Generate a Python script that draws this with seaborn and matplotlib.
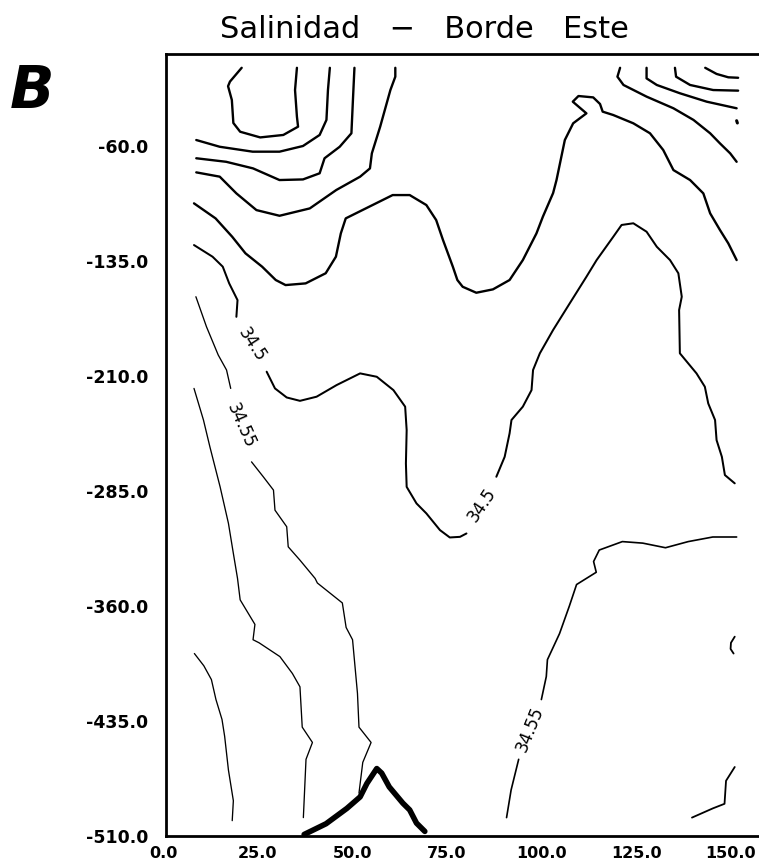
import matplotlib
matplotlib.use("Agg")
import matplotlib.pyplot as plt
import matplotlib.transforms as mtransforms
import seaborn as sns

# ---------------- data (x: distance, depth: m) ----------------
title_text = "Salinidad   \u2212   Borde   Este"
panel_letter = "B"

x_ticks = [0, 25, 50, 75, 100, 125, 150]
x_tick_labels = ["0.0", "25.0", "50.0", "75.0", "100.0", "125.0", "150.0"]
y_ticks = list(range(-510, 0, 25))
y_labelled = [-510, -435, -360, -285, -210, -135, -60]

# isolines, each as x / depth arrays
seg_a_x = [20.0, 16.9, 16.4, 17.4, 17.8, 19.6, 24.9, 31.0, 34.9, 34.6, 34.1, 34.6]
seg_a_depth = [-9, -18, -21, -30, -45, -50.7, -54.4, -52.8, -47.4, -40.9, -23.5, -9]

seg_b_x = [8.0, 14.2, 22.9, 30.0, 36.2, 40.6, 42.4, 42.8, 43.3]
seg_b_depth = [-56.1, -60.5, -63.7, -63.7, -60.0, -52.8, -43.0, -23.5, -9]

seg_c_x = [8.0, 15.9, 23.0, 30.0, 36.2, 40.6, 41.9, 45.9, 49.0, 49.4, 49.8]
seg_c_depth = [-68.0, -70.3, -74.6, -82.2, -81.8, -77.8, -68.0, -60.5, -51.7, -30.0, -9]

seg_d_x = [8.0, 14.2, 18.6, 23.9, 30.0, 38.0, 45.0, 51.3, 53.9, 54.4, 56.6, 59.3, 60.6, 60.6]
seg_d_depth = [-77.2, -80.0, -90.9, -101.8, -105.5, -100.7, -88.7, -80.0, -74.6, -64.8,
               -47.4, -23.5, -14.8, -9]

seg_e_x = [7.4, 13.1, 17.5, 21.0, 25.4, 29.0, 31.6, 36.9, 42.2, 44.9, 46.2, 47.5, 52.8,
           59.9, 64.4, 68.8, 71.4, 73.2, 75.8, 77.0, 78.4, 82.0, 86.4, 90.8, 94.3, 97.9,
           99.6, 102.3, 103.2, 105.4, 107.6, 111.1, 107.5, 109.0, 112.9, 114.7, 115.4,
           118.2, 123.5, 127.9, 131.4, 134.1, 138.5, 142.0, 143.8, 146.4, 148.6, 150.8]
seg_e_depth = [-97.4, -107.2, -119.2, -130.0, -138.7, -147.4, -150.7, -149.6, -143.0,
               -132.2, -117.0, -107.2, -100.7, -92.0, -92.0, -98.5, -108.3, -121.3,
               -138.7, -147.4, -151.8, -155.7, -153.5, -147.4, -134.4, -117.0, -106.1,
               -90.7, -82.2, -56.1, -45.2, -38.7, -31.1, -27.4, -28.3, -32.6, -37.6,
               -39.8, -45.2, -51.7, -62.6, -75.7, -82.2, -90.9, -103.9, -114.8, -123.5,
               -134.4]

seg_f1_x = [7.4, 12.3, 15.0, 16.7, 18.9, 18.6]
seg_f1_depth = [-124.6, -132.2, -138.7, -149.6, -160.5, -171.4]
seg_f2_x = [26.6, 28.8, 31.9, 35.4, 39.8, 45.1, 51.3, 55.7, 60.1, 63.2, 63.6, 63.4, 63.6,
            66.2, 68.8, 72.4, 75.0, 77.7, 79.4]
seg_f2_depth = [-207.2, -218.1, -224.0, -226.2, -223.5, -215.9, -208.3, -210.5, -219.2,
                -230.0, -245.3, -267.0, -282.3, -293.1, -299.6, -310.5, -315.3, -314.9,
                -312.7]
seg_f3_x = [87.3, 89.5, 90.8, 91.3, 94.3, 96.6, 97.0, 98.8, 102.3, 106.7, 111.1, 113.8,
            118.2, 120.4, 123.5, 127.0, 129.7, 133.2, 135.4, 136.3, 135.6, 135.8, 140.2,
            142.4, 143.3, 145.1, 145.5, 146.9, 147.7, 150.3]
seg_f3_depth = [-275.7, -262.7, -247.4, -238.7, -230.0, -219.2, -206.1, -195.2, -180.0,
                -162.6, -145.3, -134.4, -119.2, -111.5, -110.4, -115.9, -125.7, -134.4,
                -143.0, -158.3, -167.0, -195.2, -208.3, -217.0, -227.9, -238.7, -251.8,
                -262.7, -274.6, -280.0]

seg_g1_x = [7.9, 10.7, 13.8, 16.0, 17.1]
seg_g1_depth = [-158.3, -177.9, -196.3, -206.1, -218.1]
seg_g2_x = [22.6, 25.7, 28.4, 28.8, 31.9, 32.3, 35.4, 39.4, 40.0, 46.6, 47.6, 49.3, 50.6,
            51.0, 54.2, 52.0, 51.0]
seg_g2_depth = [-266.0, -275.7, -284.4, -297.5, -308.3, -321.4, -330.1, -342.0, -345.0,
                -358.0, -374.0, -382.0, -417.0, -439.0, -449.0, -462.0, -482.0]

seg_h_x = [7.4, 9.9, 11.6, 14.3, 16.5, 17.8, 18.9, 19.6, 23.5, 23.0, 24.6, 30.1, 33.4,
           35.4, 36.0, 38.7, 37.0, 36.3]
seg_h_depth = [-218.1, -238.7, -256.2, -282.3, -306.1, -325.7, -342.0, -356.0, -372.0,
               -382.0, -384.0, -393.0, -404.0, -412.7, -439.0, -449.0, -460.0, -498.0]

seg_i_x = [7.5, 10.0, 12.0, 13.2, 14.8, 15.5, 16.5, 17.8, 17.5]
seg_i_depth = [-391, -399, -408, -421, -434, -445, -467, -487, -500]

seg_j1_x = [150.8, 144.5, 138.0, 132.0, 126.0, 120.6, 114.5, 113.0, 113.7, 108.5, 106.6,
            104.0, 100.8, 100.5, 99.2]
seg_j1_depth = [-315, -315, -318, -322, -319, -318, -323.5, -331, -338, -346, -360, -378,
                -395, -406, -421]
seg_j2_x = [93.2, 91.2, 90.0]
seg_j2_depth = [-460, -480, -498]

seg_k_x = [150.3, 148.0, 147.6, 144.5, 139.0]
seg_k_depth = [-465, -474, -489, -492, -498]
seg_p_x = [150.3, 149.3, 149.2, 150.0]
seg_p_depth = [-380, -384, -388, -391]

seg_l1_x = [120.0, 119.3, 120.9, 127.0, 134.1, 139.4, 143.8, 146.4, 149.1, 150.8]
seg_l1_depth = [-9, -14.8, -20.2, -27.8, -35.4, -43.0, -51.7, -58.3, -64.8, -70.3]
seg_l2_x = [127.0, 127.0, 129.7, 135.8, 142.9, 150.8]
seg_l2_depth = [-9, -15.9, -20.2, -25.6, -31.1, -35.4]
seg_l3_x = [134.5, 134.8, 138.5, 144.6, 151.2]
seg_l3_depth = [-9, -14.8, -20.2, -23.5, -23.9]
seg_l4_x = [142.5, 145.5, 148.6, 151.2]
seg_l4_depth = [-9, -13.0, -15.2, -15.5]
seg_dot_x = [150.8, 151.0]
seg_dot_depth = [-43.5, -45.0]

# bottom topography (thick line)
bathy_x = [36.5, 42.3, 47.8, 51.3, 53.1, 55.7, 57.0, 59.0, 62.6, 64.4, 66.2, 68.4]
bathy_depth = [-509, -502, -492, -484.5, -475.7, -466, -469, -478, -488.6, -493, -501.6, -507]

# contour labels: text, placed in the gap between two pieces of an isoline
label_texts = ["34.5", "34.55", "34.5", "34.55"]

# ---------------- figure ----------------
sns.set_theme(style="white")
plt.rcParams["font.family"] = ["DejaVu Sans"]

W, H = 759, 866
fig = plt.figure(figsize=(W / 100, H / 100), dpi=100)
x_max = 160
ax_left, ax_bottom, ax_top = 166, 836, 54
px_per_x = 3.784
ax = fig.add_axes([ax_left / W, (H - ax_bottom) / H,
                   x_max * px_per_x / W, (ax_bottom - ax_top) / H])

thick = 1.7
segments = [
    (seg_a_x, seg_a_depth, thick), (seg_b_x, seg_b_depth, thick),
    (seg_c_x, seg_c_depth, thick), (seg_d_x, seg_d_depth, thick),
    (seg_e_x, seg_e_depth, thick),
    (seg_l1_x, seg_l1_depth, thick), (seg_l2_x, seg_l2_depth, thick),
    (seg_l3_x, seg_l3_depth, thick), (seg_l4_x, seg_l4_depth, thick),
    (seg_dot_x, seg_dot_depth, 2.2),
    (seg_f1_x, seg_f1_depth, 1.45), (seg_f2_x, seg_f2_depth, 1.45),
    (seg_f3_x, seg_f3_depth, 1.45),
    (seg_j1_x, seg_j1_depth, 1.2), (seg_j2_x, seg_j2_depth, 1.2),
    (seg_k_x, seg_k_depth, 1.3), (seg_p_x, seg_p_depth, 1.3),
    (seg_g1_x, seg_g1_depth, 0.95), (seg_g2_x, seg_g2_depth, 0.95),
    (seg_h_x, seg_h_depth, 0.95), (seg_i_x, seg_i_depth, 0.95),
]
for xs, zs, lw in segments:
    sns.lineplot(x=xs, y=zs, sort=False, estimator=None, color="black",
                 linewidth=lw, ax=ax, solid_capstyle="round", solid_joinstyle="round")

sns.lineplot(x=bathy_x, y=bathy_depth, sort=False, estimator=None, color="black",
             linewidth=4.0, ax=ax, solid_capstyle="round", solid_joinstyle="round")

ax.set_xlim(0, x_max)
ax.set_ylim(-510, 0)

# contour labels in the gaps
gaps = [((seg_f1_x, seg_f1_depth), (seg_f2_x, seg_f2_depth)),
        ((seg_g1_x, seg_g1_depth), (seg_g2_x, seg_g2_depth)),
        ((seg_f2_x, seg_f2_depth), (seg_f3_x, seg_f3_depth)),
        ((seg_j1_x, seg_j1_depth), (seg_j2_x, seg_j2_depth))]
label_rot = [-57, -66, 56, 68]
for (a, b), txt, rot in zip(gaps, label_texts, label_rot):
    mx = (a[0][-1] + b[0][0]) / 2
    my = (a[1][-1] + b[1][0]) / 2
    ax.text(mx, my, txt, rotation=rot, ha="center", va="center",
            rotation_mode="anchor", fontsize=12, color="black")

# axes styling
ax.set_xticks(x_ticks)
ax.set_xticklabels(x_tick_labels)
ax.set_yticks(y_ticks)
ax.set_yticklabels([f"{v:.1f}" if v in y_labelled else "" for v in y_ticks])
ax.tick_params(axis="both", direction="in", colors="black", width=1.5)
ax.tick_params(axis="x", length=9.5, pad=7, labelsize=11.5)
ax.tick_params(axis="y", length=11, pad=13, labelsize=12.5)
shift = mtransforms.ScaledTranslation(-3 / 100, 0, fig.dpi_scale_trans)
for lab in ax.get_xticklabels():
    lab.set_fontweight("bold")
    lab.set_transform(lab.get_transform() + shift)
for lab in ax.get_yticklabels():
    lab.set_fontweight("bold")
ax.set_xlabel("")
ax.set_ylabel("")
for side, sp in ax.spines.items():
    sp.set_color("black")
    sp.set_linewidth(2.0)
ax.grid(False)

ax.set_title(title_text, x=(424 - ax_left) / (x_max * px_per_x), pad=11.5,
             fontsize=22, fontweight="normal", color="black")
fig.text(10 / W, 1 - 108 / H, panel_letter, fontsize=42, fontweight="bold",
         fontstyle="italic", ha="left", va="baseline", color="black")

fig.savefig("out.png", dpi=100, facecolor="white")
